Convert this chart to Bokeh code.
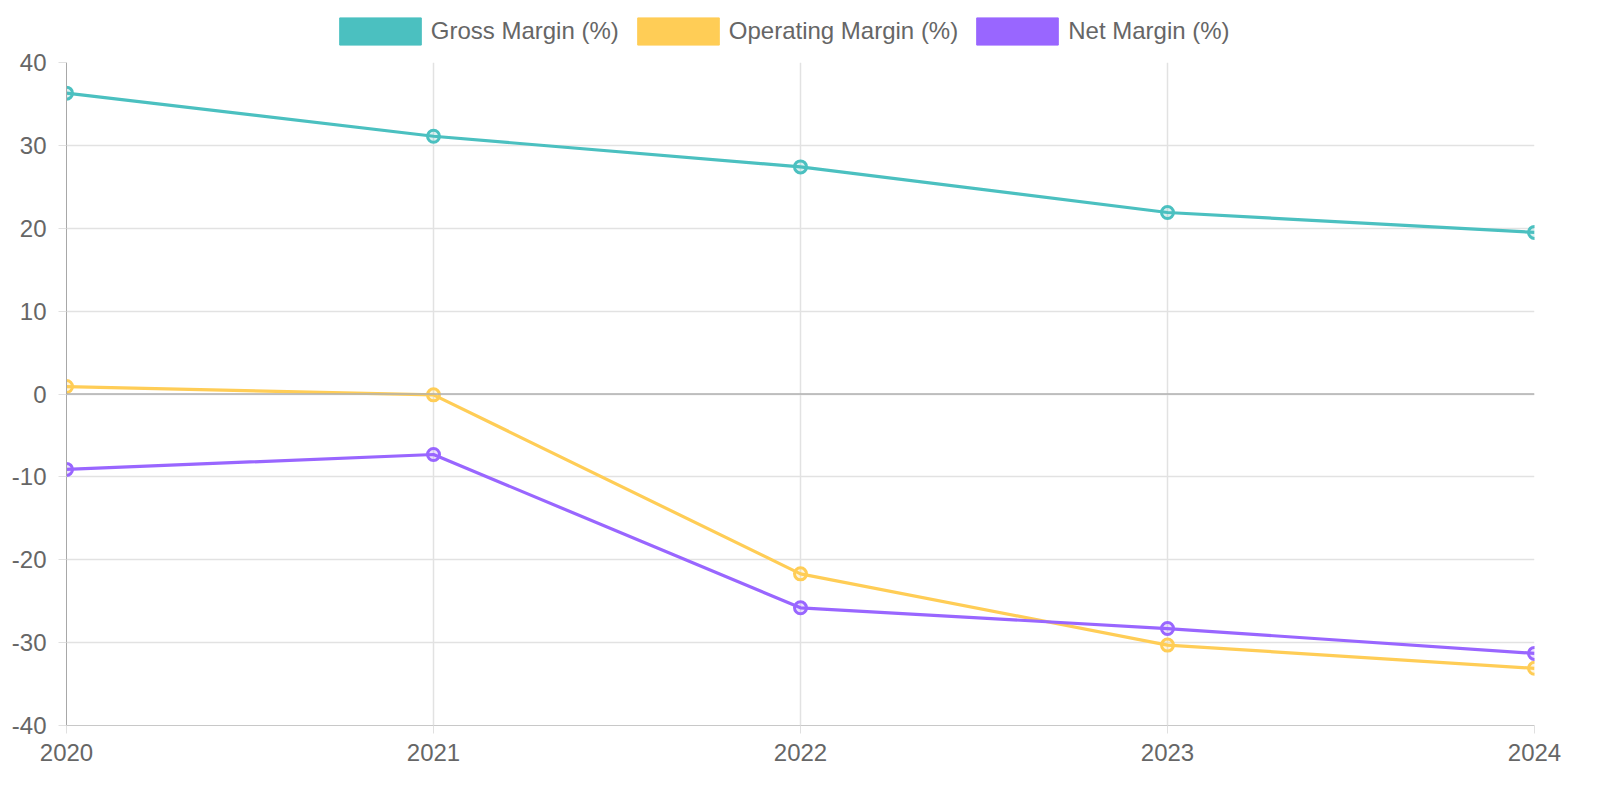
from bokeh.plotting import figure
from bokeh.layouts import column
from bokeh.models import Legend, LegendItem, FixedTicker, Range1d, Span, ColumnDataSource, CustomJSTickFormatter
from bokeh.embed import file_html
from bokeh.resources import INLINE

years = [2020, 2021, 2022, 2023, 2024]
gross_margin = [36.3, 31.1, 27.4, 21.9, 19.5]
operating_margin = [0.9, -0.1, -21.7, -30.3, -33.1]
net_margin = [-9.1, -7.3, -25.8, -28.3, -31.3]
series_names = ["Gross Margin (%)", "Operating Margin (%)", "Net Margin (%)"]
colors = ["#4BC0C0", "#FFCD56", "#9966FF"]
y_ticks = [-40, -30, -20, -10, 0, 10, 20, 30, 40]

FONT = "Liberation Sans"
TXT = "#666666"
W = 1584
LEG_H = 46
BL, BR = 66, 50

# legend swatch geometry (Bokeh insets area swatches by 10% on each side)
SW_W, SW_H = 82, 27
GW, GH = SW_W / 0.8, SW_H / 0.8
INSET_X, INSET_Y = GW * 0.1, GH * 0.1

# legend strip (frame aligned with the chart frame)
lf = figure(width=W, height=LEG_H, output_backend="svg", toolbar_location=None,
            x_range=Range1d(0, 1), y_range=Range1d(0, 1),
            min_border_left=BL, min_border_right=BR, min_border_top=0, min_border_bottom=0)
lf.axis.visible = False
lf.grid.visible = False
lf.outline_line_color = None

# main chart
p = figure(width=W, height=784 - LEG_H, output_backend="svg", toolbar_location=None,
           x_range=Range1d(2020, 2024), y_range=Range1d(-40, 40),
           min_border_left=BL, min_border_right=BR, min_border_top=62 - LEG_H, min_border_bottom=59)
p.outline_line_color = None
p.background_fill_color = "white"

for ax in (p.xaxis[0], p.yaxis[0]):
    ax.major_label_text_font = FONT
    ax.major_label_text_font_size = "24px"
    ax.major_label_text_color = TXT
    ax.major_tick_in = 0
    ax.major_tick_out = 8
    ax.major_tick_line_color = "#e0e0e0"
    ax.minor_tick_line_color = None
    ax.formatter = CustomJSTickFormatter(code="return tick.toString();")

p.xaxis.ticker = FixedTicker(ticks=years)
p.xaxis.axis_line_color = "#c8c8c8"
p.xaxis.major_label_standoff = 10
p.yaxis.ticker = FixedTicker(ticks=y_ticks)
p.yaxis.axis_line_color = "#a8a8a8"
p.yaxis.major_label_standoff = 12

p.xgrid.ticker = FixedTicker(ticks=years)
p.ygrid.ticker = FixedTicker(ticks=y_ticks)
p.xgrid.grid_line_color = "#e2e2e2"
p.ygrid.grid_line_color = "#e2e2e2"
p.xgrid.grid_line_width = 1.5
p.ygrid.grid_line_width = 1.5

p.add_layout(Span(location=0, dimension="width", line_color="#b0b0b0", line_width=1.5))

nan = float("nan")
items = []
for name, vals, c in zip(series_names, [gross_margin, operating_margin, net_margin], colors):
    src = ColumnDataSource(dict(x=years, y=vals))
    p.line("x", "y", source=src, line_color=c, line_width=3.2)
    p.scatter("x", "y", source=src, size=12, line_color=c, line_width=3,
              fill_color=c, fill_alpha=0.2)
    sw = lf.quad(left=[nan], right=[nan], top=[nan], bottom=[nan], fill_color=c, line_color=c)
    items.append(LegendItem(label=name, renderers=[sw], index=0))

legend = Legend(items=items, orientation="horizontal",
                location=(339 - BL - INSET_X, LEG_H - (18 - INSET_Y) - GH),
                glyph_width=int(round(GW)), glyph_height=int(round(GH)),
                label_standoff=0, spacing=8,
                padding=0, margin=0, border_line_color=None, background_fill_alpha=0,
                label_text_font=FONT, label_text_font_size="24px", label_text_color=TXT,
                label_height=int(round(GH)))
lf.add_layout(legend, "center")

layout = column(lf, p, spacing=0)
open("out.html", "w").write(file_html(layout, INLINE))
